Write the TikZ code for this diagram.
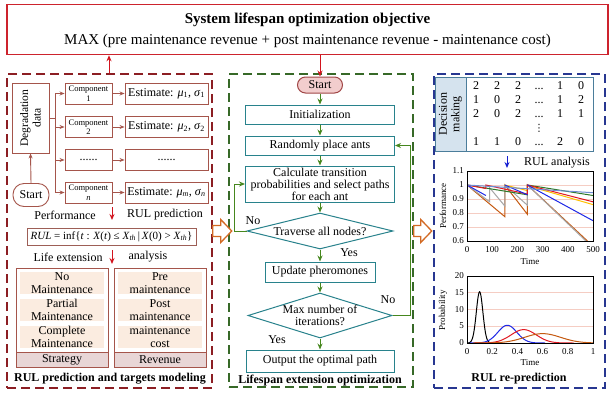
\documentclass[tikz,border=0pt]{standalone}
\usepackage{fontspec}
\setmainfont{Liberation Serif}
\newfontfamily\dejavu{DejaVu Sans}
\usetikzlibrary{shapes.geometric,arrows.meta,matrix,calc}
\definecolor{topred}{RGB}{205,35,45}
\definecolor{lred}{RGB}{140,30,35}
\definecolor{lbrown}{RGB}{165,85,75}
\definecolor{peach}{RGB}{251,236,224}
\definecolor{bandc}{RGB}{232,214,214}
\definecolor{arrred}{RGB}{210,20,30}
\definecolor{mgreen}{RGB}{55,105,40}
\definecolor{agreen}{RGB}{70,135,30}
\definecolor{fteal}{RGB}{40,130,140}
\definecolor{startfill}{RGB}{242,205,205}
\definecolor{startdraw}{RGB}{160,70,70}
\definecolor{rblue}{RGB}{40,55,145}
\definecolor{tblue}{RGB}{75,125,155}
\definecolor{tfill}{RGB}{213,227,238}
\definecolor{ablue}{RGB}{20,30,210}
\definecolor{orng}{RGB}{210,105,35}
\definecolor{gridc}{RGB}{245,205,195}
\definecolor{corange}{RGB}{197,90,17}
\definecolor{cgray}{RGB}{165,165,165}
\definecolor{cblue}{RGB}{30,40,230}
\definecolor{cred}{RGB}{225,25,35}
\definecolor{cgreen}{RGB}{45,120,40}
\definecolor{cyellow}{RGB}{255,192,0}
\definecolor{csteel}{RGB}{110,140,210}
\tikzset{
  f12/.style={font=\fontsize{12}{12.5}\selectfont},
  panel/.style={draw, line width=1.5pt, dash pattern=on 9pt off 5pt, inner sep=0pt},
  lbox/.style={draw=lbrown, line width=0.9pt, inner sep=0pt, align=center},
  larr/.style={draw=lbrown, line width=0.9pt, -{Stealth[length=5pt,width=4pt]}},
  redarr/.style={draw=arrred, line width=1pt, -{Stealth[length=6pt,width=5pt]}},
  fbox/.style={draw=fteal, line width=1pt, inner sep=0pt, align=center, f12},
  dia/.style={diamond, draw=fteal, line width=1pt, inner sep=0pt, aspect=3.5},
  garr/.style={draw=agreen, line width=1pt, -{Stealth[length=6pt,width=5pt]}},
  barr/.style={draw=ablue, line width=1pt, -{Stealth[length=6pt,width=5pt]}},
  pcell/.style={fill=peach, minimum width=84pt, minimum height=22pt, align=center, inner sep=0pt, f12},
  bandcell/.style={fill=bandc, draw=lbrown, line width=0.9pt, minimum width=92pt, minimum height=15pt, inner sep=0pt, f12},
  hollow/.style={draw=orng, line width=1.3pt, fill=white, line join=miter},
  ticklab/.style={font=\fontsize{9}{10}\selectfont, inner sep=1pt},
  ptitle/.style={font=\bfseries\fontsize{12}{13}\selectfont},
  curve/.style={line width=1pt},
}
\begin{document}
\begin{tikzpicture}[x=1pt,y=-1pt]
\useasboundingbox[fill=white] (0,0) rectangle (616,400);

% ---------- top objective box ----------
\node[draw=topred, line width=1.5pt, minimum width=601pt, minimum height=50pt, inner sep=0pt] (top) at (307.5,29.5) {};
\node[font=\bfseries\fontsize{15}{17}\selectfont] (toptitle) at (307.5,19.5) {System lifespan optimization objective};
\node[font=\fontsize{15}{17}\selectfont] (topmax) at (307.5,40.5) {MAX (pre maintenance revenue + post maintenance revenue - maintenance cost)};

% ---------- panels ----------
\node[panel, draw=lred, minimum width=205pt, minimum height=314pt] (lpanel) at (109.5,231) {};
\node[panel, draw=mgreen, minimum width=184pt, minimum height=313pt] (mpanel) at (321,230.5) {};
\node[panel, draw=rblue, minimum width=171pt, minimum height=314pt] (rpanel) at (519.5,231) {};

\coordinate (upx) at (109,0);
\draw[redarr] (upx |- lpanel.north) -- (upx |- top.south);

% ---------- left panel ----------
\node[lbox, minimum width=37pt, minimum height=70pt] (deg) at (30.5,118) {};
\node[rotate=90, align=center, font=\fontsize{11.5}{12.5}\selectfont] (degtext) at (deg.center) {Degradation\\data};
\node[lbox, rounded corners=11pt, minimum width=36pt, minimum height=23pt, f12] (start1) at (31,195) {Start};
\draw[larr] (start1.north) -- (deg.south);

\node[lbox, minimum width=47pt, minimum height=21pt, font=\fontsize{8.5}{9.5}\selectfont] (c1) at (88.5,93.5) {Component\\1};
\node[lbox, minimum width=47pt, minimum height=21pt, font=\fontsize{8.5}{9.5}\selectfont] (c2) at (88.5,127) {Component\\2};
\node[lbox, minimum width=47pt, minimum height=21pt, f12] (cd) at (88.5,160) {......};
\node[lbox, minimum width=47pt, minimum height=21pt, font=\fontsize{8.5}{9.5}\selectfont] (cn) at (88.5,192.5) {Component\\\textit{n}};

\node[lbox, minimum width=83pt, minimum height=21pt, f12] (e1) at (166.5,93.5) {Estimate: \textit{μ}\textsubscript{1}, \textit{σ}\textsubscript{1}};
\node[lbox, minimum width=83pt, minimum height=21pt, f12] (e2) at (166.5,127) {Estimate: \textit{μ}\textsubscript{2}, \textit{σ}\textsubscript{2}};
\node[lbox, minimum width=83pt, minimum height=21pt, f12] (ed) at (166.5,160) {......};
\node[lbox, minimum width=83pt, minimum height=21pt, f12] (en) at (166.5,192.5) {Estimate: \textit{μ}\textsubscript{\textit{m}}, \textit{σ}\textsubscript{\textit{n}}};

\coordinate (bus) at (55,0);
\draw[draw=lbrown, line width=0.9pt] (deg.east) -- (bus |- deg.east);
\draw[draw=lbrown, line width=0.9pt] (bus |- c1) -- (bus |- cn);
\foreach \n in {c1,c2,cd,cn} \draw[larr] (bus |- \n) -- (\n.west);
\draw[larr] (c1) -- (e1);
\draw[larr] (c2) -- (e2);
\draw[larr] (cd) -- (ed);
\draw[larr] (cn) -- (en);

\node[f12] (perf) at (65,215) {Performance};
\node[f12] (rulp) at (165,215) {RUL prediction};
\coordinate (ra1) at (112,207);
\coordinate (ra2) at (112,220);
\draw[redarr] (ra1) -- (ra2);

\node[draw=lbrown!80!gray, line width=0.8pt, minimum width=169pt, minimum height=17pt, inner sep=0pt, font=\fontsize{11}{12}\selectfont] (rul) at (111.5,236.5)
  {\textit{RUL} = inf\{\textit{t} : \textit{X}(\textit{t}) ≤ \textit{X}\textsubscript{\textit{th}}\,|\,\textit{X}(0) > \textit{X}\textsubscript{\textit{th}}\}};

\node[f12] (life) at (68,257) {Life extension};
\node[f12] (anal) at (148,257) {analysis};
\coordinate (rb1) at (112,250);
\coordinate (rb2) at (112,264);
\draw[redarr] (rb1) -- (rb2);

\node[lbox, minimum width=92pt, minimum height=99pt] (strat) at (62,317.5) {};
\node[pcell] (s1) at (62,283) {No\\Maintenance};
\node[pcell] (s2) at (62,310) {Partial\\Maintenance};
\node[pcell] (s3) at (62,337) {Complete\\Maintenance};
\node[bandcell] (s4) at (62,359.5) {Strategy};

\node[lbox, minimum width=92pt, minimum height=99pt] (reven) at (160,317.5) {};
\node[pcell] (r1) at (160,283) {Pre\\maintenance};
\node[pcell] (r2) at (160,310) {Post\\maintenance};
\node[pcell] (r3) at (160,337) {maintenance\\cost};
\node[bandcell] (r4) at (160,359.5) {Revenue};

\node[ptitle] (ltitle) at (110,379) {RUL prediction and targets modeling};

% ---------- middle panel ----------
\node[draw=startdraw, fill=startfill, line width=1pt, rounded corners=8pt, minimum width=45pt, minimum height=16pt, inner sep=0pt, f12] (st2) at (320,85) {Start};
\draw[redarr] (st2.north |- top.south) -- (st2.north);
\node[fbox, minimum width=149pt, minimum height=19pt] (init) at (320,114.5) {Initialization};
\node[fbox, minimum width=149pt, minimum height=19pt] (rand) at (320,145.5) {Randomly place ants};
\node[fbox, minimum width=149pt, minimum height=36pt, font=\fontsize{12}{12}\selectfont] (calc) at (320,184) {Calculate transition\\probabilities and select paths\\for each ant};
\node[dia, minimum width=146pt, minimum height=36pt] (trav) at (320,231) {};
\node[f12] (travt) at (trav.center) {Traverse all nodes?};
\node[fbox, minimum width=110pt, minimum height=20pt] (upd) at (320,272) {Update pheromones};
\node[dia, minimum width=144pt, minimum height=45pt] (maxit) at (320,315.5) {};
\node[align=center, font=\fontsize{12}{12.5}\selectfont] (maxt) at (maxit.center) {Max number of\\iterations?};
\node[fbox, minimum width=148pt, minimum height=22pt] (out) at (320,361) {Output the optimal path};

\draw[garr] (st2) -- (init);
\draw[garr] (init) -- (rand);
\draw[garr] (rand) -- (calc);
\draw[garr] (calc) -- (trav.north);
\draw[garr] (trav.south) -- (upd);
\draw[garr] (upd) -- (maxit.north);
\draw[garr] (maxit.south) -- (out);
\draw[garr] (trav.west) -- ++(-12,0) |- (calc.west);
\draw[garr] (maxit.east) -- ++(18,0) |- (rand.east);

\node[f12] (no1) at (253,221) {No};
\node[f12] (yes1) at (349,253) {Yes};
\node[f12] (no2) at (388,300) {No};
\node[f12] (yes2) at (277,340) {Yes};

\node[ptitle] (mtitle) at (320,381) {Lifespan extension optimization};

% ---------- hollow orange arrows ----------
\coordinate (h1) at (lpanel.east |- trav);
\coordinate (h2) at (mpanel.east |- trav);
\draw[hollow] (h1) ++(0,-5.5) -- ++(8,0) -- ++(0,-6) -- ++(11,11.5) -- ++(-11,11.5) -- ++(0,-6) -- ++(-8,0) -- cycle;
\draw[hollow] (h2) ++(0,-5.5) -- ++(7,0) -- ++(0,-6) -- ++(11,11.5) -- ++(-11,11.5) -- ++(0,-6) -- ++(-7,0) -- cycle;

% ---------- right panel ----------
\node[draw=tblue, line width=1pt, minimum width=158pt, minimum height=74pt, inner sep=0pt] (tab) at (514,114) {};
\node[draw=tblue, fill=tfill, line width=1pt, minimum width=31pt, minimum height=74pt, inner sep=0pt] (dec) at (450.5,114) {};
\node[rotate=90, align=center, font=\fontsize{12}{12.5}\selectfont] (dect) at (dec.center) {Decision\\making};
\matrix (mat) at (528.5,114) [matrix of nodes, nodes={minimum width=21pt, inner sep=0pt, text height=9pt, text depth=3pt, anchor=center, f12}, row sep=2pt] {
2 & 2 & 2 & ... & 1 & 0\\
1 & 0 & 2 & ... & 1 & 2\\
2 & 0 & 2 & ... & 1 & 1\\
  &   &   & {\dejavu\fontsize{10}{10}\selectfont ⋮} & & \\
1 & 1 & 0 & ... & 2 & 0\\
};

\coordinate (ba1) at (507,156);
\coordinate (ba2) at (507,168);
\draw[barr] (ba1) -- (ba2);
\node[f12] (rula) at (557,163) {RUL analysis};

% chart 1
\begin{scope}[shift={(467,241)}, x=0.252pt, y=140pt]
  \foreach \p in {0.1,0.2,0.3,0.4} \draw[gridc, line width=0.6pt] (0,\p) -- (500,\p);
  \clip (0,0) rectangle (500,0.5);
  \draw[curve, corange] (0,0.4) -- (150,0.174) -- (150,0.4) -- (240,0.19) -- (240,0.4) -- (478,0);
  \draw[curve, cgray] (0,0.4) -- (90,0.28) -- (90,0.38) -- (150,0.25) -- (150,0.4) -- (240,0.255) -- (240,0.4) -- (472,0);
  \draw[curve, cyellow] (150,0.4) -- (240,0.36) -- (240,0.395) -- (500,0.26);
  \draw[curve, cgreen] (0,0.4) -- (240,0.33) -- (240,0.4) -- (500,0.325);
  \draw[curve, cred] (0,0.4) -- (75,0.375) -- (75,0.4) -- (240,0.335) -- (240,0.4) -- (500,0.28);
  \draw[curve, cblue] (0,0.4) -- (75,0.325);
  \draw[curve, cblue] (150,0.4) -- (240,0.33);
  \draw[curve, cblue] (240,0.4) -- (500,0.145);
  \draw[curve, csteel] (0,0.4) -- (500,0.345);
\end{scope}
\node[draw, line width=0.8pt, minimum width=126pt, minimum height=70pt, inner sep=0pt] (ch1) at (530,206) {};
\foreach \v/\yy in {0.6/241,0.7/227,0.8/213,0.9/199,1/185,1.1/171}
  \node[ticklab, anchor=east] (ya\yy) at (465,\yy) {\v};
\foreach \t in {0,100,200,300,400,500}
  \node[ticklab, anchor=north] (xa\t) at ({467+0.252*\t},245) {\t};
\node[ticklab] (time1) at (530,262) {Time};
\node[rotate=90, font=\fontsize{9}{10}\selectfont] (perfl) at (443,206) {Performance};

% chart 2
\begin{scope}[shift={(467,343)}, x=126pt, y=3.35pt]
  \foreach \p in {5,10,15} \draw[gridc, line width=0.6pt] (0,\p) -- (1,\p);
  \draw[curve, black, smooth, samples=50, domain=0.01:0.2] plot (\x, {15.3*exp(-0.5*((\x-0.1)/0.026)^2)});
  \draw[curve, cblue, smooth, samples=60, domain=0.02:0.62] plot (\x, {5.3*exp(-0.5*((\x-0.32)/0.0753)^2)});
  \draw[curve, cred, smooth, samples=60, domain=0.05:0.85] plot (\x, {4*exp(-0.5*((\x-0.45)/0.1)^2)});
  \draw[curve, corange, smooth, samples=60, domain=0.05:1] plot (\x, {2.8*exp(-0.5*((\x-0.6)/0.1425)^2)});
\end{scope}
\node[draw, line width=0.8pt, minimum width=126pt, minimum height=67pt, inner sep=0pt] (ch2) at (530,309.5) {};
\foreach \v/\yy in {0/343,5/326,10/310,15/293,20/276}
  \node[ticklab, anchor=east] (yb\v) at (465,\yy) {\v};
\foreach \v/\n in {0/a,0.2/b,0.4/c,0.6/d,0.8/e,1/f}
  \node[ticklab, anchor=north] (xb\n) at ({467+126*\v},347) {\v};
\node[ticklab] (time2) at (530,363) {Time};
\node[rotate=90, font=\fontsize{9}{10}\selectfont] (probl) at (443,310) {Probability};

\node[ptitle] (rtitle) at (519,379) {RUL re-prediction};
\end{tikzpicture}
\end{document}
